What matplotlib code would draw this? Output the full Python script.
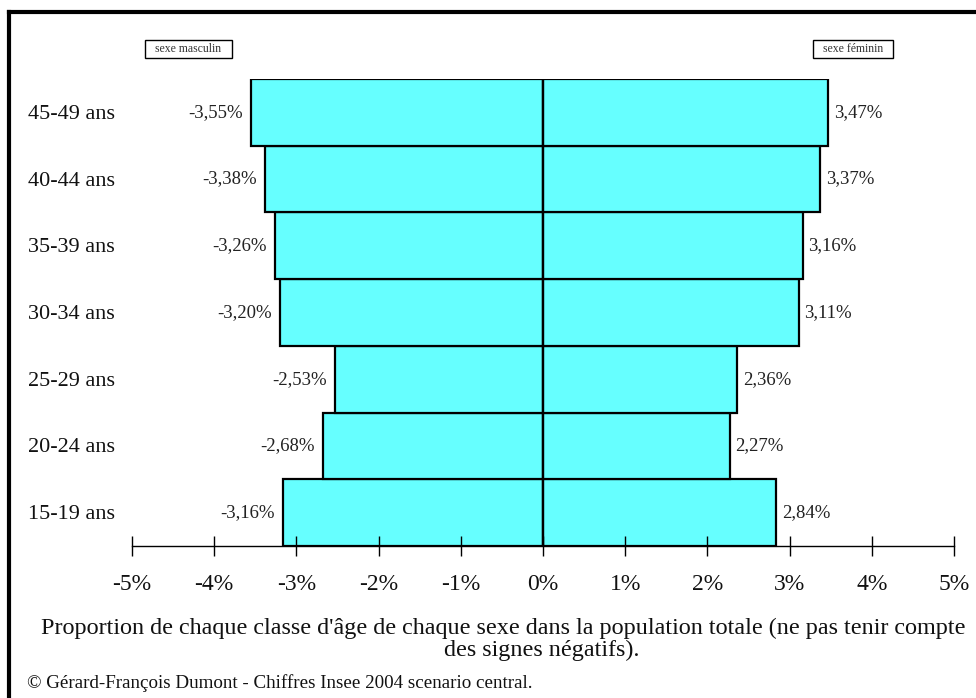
import matplotlib.pyplot as plt
from matplotlib.lines import Line2D
from matplotlib.patches import Rectangle

plt.rcParams['font.family'] = ['Liberation Serif', 'DejaVu Serif']

# classes d'âge, de la plus jeune à la plus âgée
ages = ['15-19 ans', '20-24 ans', '25-29 ans', '30-34 ans',
        '35-39 ans', '40-44 ans', '45-49 ans']
hommes = [-3.16, -2.68, -2.53, -3.20, -3.26, -3.38, -3.55]
femmes = [2.84, 2.27, 2.36, 3.11, 3.16, 3.37, 3.47]
ticks = [-5, -4, -3, -2, -1, 0, 1, 2, 3, 4, 5]

W, H = 976, 698
fig = plt.figure(figsize=(W / 100, H / 100), dpi=100)
ax = fig.add_axes([132 / W, 1 - 546 / H, 822 / W, 467 / H])

y = range(len(ages))
ax.barh(y, hommes, height=1.0, color='#66ffff', edgecolor='black', linewidth=1.6)
ax.barh(y, femmes, height=1.0, color='#66ffff', edgecolor='black', linewidth=1.6)
ax.axvline(0, color='black', linewidth=1.6)

def fmt(v):
    return ('%.2f%%' % v).replace('.', ',')

for i, (h, f) in enumerate(zip(hommes, femmes)):
    ax.text(h - 0.1, i, fmt(h), ha='right', va='center', fontsize=13.5, color='#222222')
    ax.text(f + 0.07, i, fmt(f), ha='left', va='center', fontsize=13.5, color='#222222')

# étiquettes des classes d'âge, alignées à gauche dans la marge
for i, a in enumerate(ages):
    ax.annotate(a, xy=(28 / W, i - 0.03), xycoords=('figure fraction', 'data'),
                ha='left', va='center', fontsize=16, color='#111111')

ax.set_xlim(-5, 5)
ax.set_ylim(-0.5, len(ages) - 0.5)
ax.set_xticks(ticks)
ax.set_xticklabels(['%d%%' % t for t in ticks], fontsize=17, color='#111111')
ax.set_yticks([])
for s in ['top', 'right', 'left']:
    ax.spines[s].set_visible(False)
ax.spines['bottom'].set_linewidth(1.0)
ax.tick_params(axis='x', direction='inout', length=14, width=1.0, pad=13)

# encadrés des sexes
for x0, x1, txt in [(145, 232, 'sexe masculin'), (813, 893, 'sexe féminin')]:
    fig.add_artist(Rectangle((x0 / W, 1 - 58 / H), (x1 - x0) / W, 18 / H,
                             transform=fig.transFigure, facecolor='white',
                             edgecolor='black', linewidth=1.0))
    fig.text((x0 + x1) / 2 / W, 1 - 49 / H, txt, ha='center', va='center',
             fontsize=8.5, color='#333333')

fig.text(503 / W, 1 - 628 / H,
         "Proportion de chaque classe d'âge de chaque sexe dans la population totale (ne pas tenir compte",
         ha='center', va='center', fontsize=17.4, color='#111111')
fig.text(542 / W, 1 - 650 / H, 'des signes négatifs).',
         ha='center', va='center', fontsize=17.4, color='#111111')
fig.text(27 / W, 1 - 683 / H,
         '© Gérard-François Dumont - Chiffres Insee 2004 scenario central.',
         ha='left', va='center', fontsize=13.7, color='#111111')

# cadre : bord supérieur et bord gauche
fig.add_artist(Line2D([9 / W, 1], [1 - 12 / H, 1 - 12 / H], color='black', linewidth=3))
fig.add_artist(Line2D([9 / W, 9 / W], [1 - 12 / H, 0], color='black', linewidth=3))

fig.savefig('out.png', dpi=100)
